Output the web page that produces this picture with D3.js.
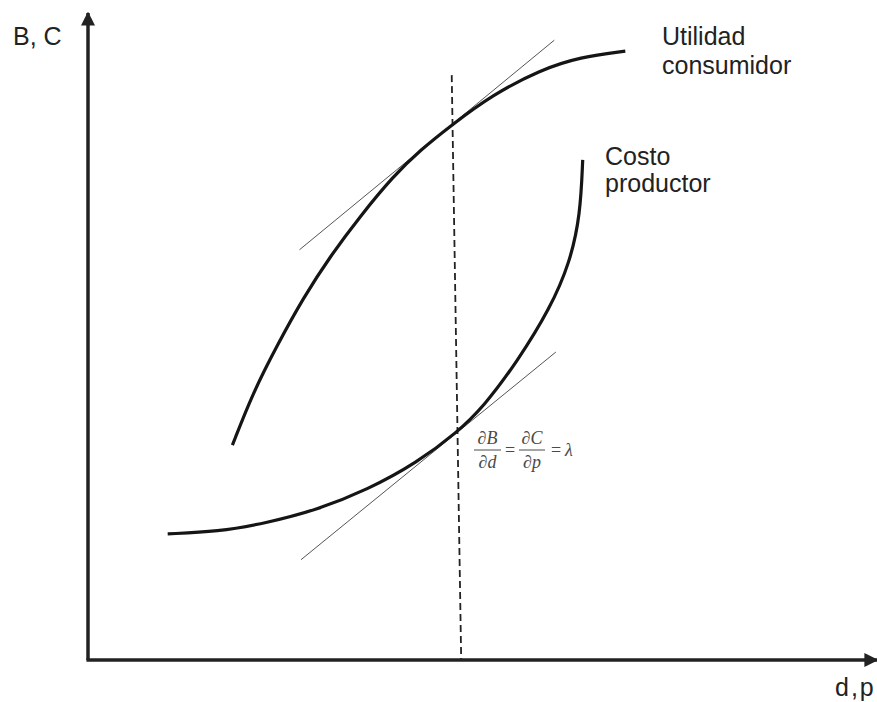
<!DOCTYPE html>
<html>
<head>
<meta charset="utf-8">
<script src="https://cdn.jsdelivr.net/npm/d3@7"></script>
<style>
  body { margin: 0; background: #fff; }
  .curve { fill: none; stroke: #151515; stroke-width: 3.2; }
  .tangent { fill: none; stroke: #555; stroke-width: 1; }
  .label { font-family: "Liberation Sans", Arial, sans-serif; font-size: 25px; fill: #222; }
  .math { font-family: "Liberation Serif", "Times New Roman", serif; font-size: 18px; fill: #4a4a4a; }
</style>
</head>
<body>
<script>
// curves, in chart units (0-100 on both axes)
const utilidad = [[18.3,33.2],[20.9,41.3],[24.0,48.7],[27.3,56.0],[30.7,62.4],[34.5,68.6],[38.7,74.8],
                  [42.1,78.8],[46.1,82.7],[51.2,87.3],[57.3,91.2],[62.4,93.2],[68.1,94.1]];
const costo = [[10.1,19.5],[16.4,19.8],[22.7,21.2],[29.0,23.2],[35.4,26.3],[41.7,30.5],[46.8,35.2],
               [50.1,39.1],[54.4,46.1],[58.6,54.4],[61.1,61.5],[62.4,68.8],[62.7,77.3]];
// tangent lines and the optimum (dashed)
const tangenteU = [[26.8,63.4],[59.1,95.8]];
const tangenteC = [[27.0,15.5],[59.3,47.6]];
const optimo = [[46.1,90.4],[47.3,0]];

const labelY = "B, C";
const labelX = "d,p";
const labelU = ["Utilidad", "consumidor"];
const labelC = ["Costo", "productor"];

const width = 877, height = 702;
const margin = {top: 13, right: 0, bottom: 42, left: 88};

const svg = d3.select("body").append("svg")
    .attr("width", width)
    .attr("height", height);

const x = d3.scaleLinear().domain([0, 100]).range([margin.left, width - margin.right]);
const y = d3.scaleLinear().domain([0, 100]).range([height - margin.bottom, margin.top]);

// arrow head
svg.append("defs").append("marker")
    .attr("id", "arrow")
    .attr("viewBox", "0 0 10 10")
    .attr("refX", 9).attr("refY", 5)
    .attr("markerWidth", 4).attr("markerHeight", 4)
    .attr("markerUnits", "strokeWidth")
    .attr("orient", "auto")
  .append("path")
    .attr("d", "M0,0 L10,5 L0,10 Z")
    .attr("fill", "#222");

const line = d3.line().x(d => x(d[0])).y(d => y(d[1]));
const smooth = d3.line().x(d => x(d[0])).y(d => y(d[1])).curve(d3.curveBasis);

// axes
svg.append("path")
    .attr("d", line([[0, 0], [0, 100]]))
    .attr("stroke", "#222").attr("stroke-width", 3.5).attr("fill", "none")
    .attr("marker-end", "url(#arrow)");
svg.append("path")
    .attr("d", line([[-0.2, 0], [100, 0]]))
    .attr("stroke", "#222").attr("stroke-width", 3.5).attr("fill", "none")
    .attr("marker-end", "url(#arrow)");

// dashed optimum line
svg.append("path")
    .attr("d", line(optimo))
    .attr("stroke", "#222").attr("stroke-width", 1.8).attr("fill", "none")
    .attr("stroke-dasharray", "7,4");

// tangents
svg.append("path").attr("class", "tangent").attr("d", line(tangenteU));
svg.append("path").attr("class", "tangent").attr("d", line(tangenteC));

// curves
svg.append("path").attr("class", "curve").attr("d", smooth(utilidad));
svg.append("path").attr("class", "curve").attr("d", smooth(costo));

// labels
svg.append("text").attr("class", "label").attr("x", 13).attr("y", 45).text(labelY);
svg.append("text").attr("class", "label").attr("x", 835).attr("y", 696)
    .attr("letter-spacing", 2).text(labelX);

labelU.forEach((t, i) => {
    svg.append("text").attr("class", "label")
        .attr("x", 662).attr("y", 45 + i * 29).text(t);
});
labelC.forEach((t, i) => {
    svg.append("text").attr("class", "label")
        .attr("x", 605).attr("y", 165 + i * 27).text(t);
});

// dB/dd = dC/dp = lambda
const m = svg.append("g").attr("class", "math");
function frac(x0, num, den, w) {
    m.append("text").attr("x", x0 + w / 2).attr("y", 444).attr("text-anchor", "middle")
        .html("∂<tspan font-style='italic'>" + num + "</tspan>");
    m.append("line").attr("x1", x0).attr("x2", x0 + w).attr("y1", 450).attr("y2", 450)
        .attr("stroke", "#4a4a4a").attr("stroke-width", 1);
    m.append("text").attr("x", x0 + w / 2).attr("y", 468).attr("text-anchor", "middle")
        .html("∂<tspan font-style='italic'>" + den + "</tspan>");
}
frac(474, "B", "d", 27);
m.append("text").attr("x", 510).attr("y", 456).attr("text-anchor", "middle").text("=");
frac(519, "C", "p", 26);
m.append("text").attr("x", 556).attr("y", 456).attr("text-anchor", "middle").text("=");
m.append("text").attr("x", 565).attr("y", 456).attr("font-style", "italic").text("λ");
</script>
</body>
</html>
